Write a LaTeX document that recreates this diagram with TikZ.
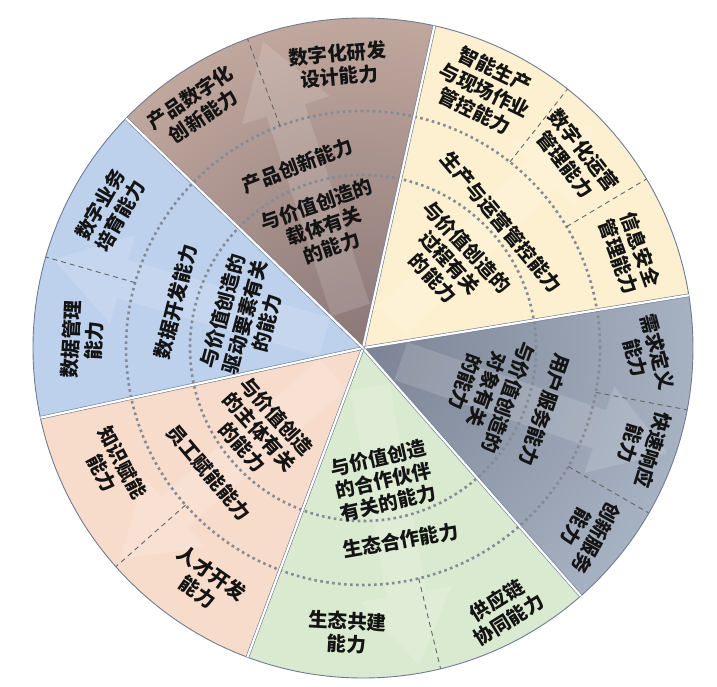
\documentclass[tikz,border=0pt]{standalone}
\usepackage{fontspec}
\newfontfamily\cjk{Noto Sans CJK SC}[BoldFont={Noto Sans CJK SC Black}]
\usepackage{tikz}
\usetikzlibrary{calc}

\definecolor{brownout}{HTML}{E6C9B9}
\definecolor{brownin}{HTML}{8A7777}
\definecolor{yellowfill}{HTML}{FDF0D0}
\definecolor{greyout}{HTML}{CAD7E7}
\definecolor{greyin}{HTML}{7B8394}
\definecolor{greenfill}{HTML}{DAEAD0}
\definecolor{salmonfill}{HTML}{F8DCCB}
\definecolor{bluefill}{HTML}{BDD0EC}
\definecolor{edgegrey}{HTML}{6F7C93}
\definecolor{dotgrey}{HTML}{858A94}

\begin{document}
\begin{tikzpicture}[x=1pt,y=1pt,
  lbl/.style={font=\cjk\bfseries\fontsize{19.5}{23}\selectfont, align=center, text=black!92, inner sep=0pt},
  ring/.style={dotgrey, line width=2.6pt, dash pattern=on 2.6pt off 3.4pt},
  subline/.style={black!60, line width=0.9pt, dash pattern=on 5pt off 4pt},
  sep/.style={draw=edgegrey, line width=0.6pt, double=white, double distance=2.2pt},
  glow/.style={fill=white, opacity=0.14}]
\useasboundingbox (-363,-338) rectangle (354,348);

% sectors
\begin{scope}
\clip (0,0) -- (77.5:330) arc (77.5:135.9:330) -- cycle;
\shade[inner color=brownin, outer color=brownout] (0,0) circle (560);
\end{scope}
\fill[yellowfill] (0,0) -- (9.2:330) arc (9.2:77.5:330) -- cycle;
\begin{scope}
\clip (0,0) -- (-48.7:330) arc (-48.7:9.2:330) -- cycle;
\shade[inner color=greyin, outer color=greyout] (0,0) circle (600);
\end{scope}
\fill[greenfill] (0,0) -- (-110.5:330) arc (-110.5:-48.7:330) -- cycle;
\fill[salmonfill] (0,0) -- (192.2:330) arc (192.2:249.5:330) -- cycle;
\fill[bluefill] (0,0) -- (135.9:330) arc (135.9:192.2:330) -- cycle;

% faint arrows
\fill[glow, rotate=108] (40,-20) -- (250,-20) -- (250,-46) -- (322,0) -- (250,46) -- (250,20) -- (40,20) -- cycle;
\fill[glow, rotate=44] (40,-20) -- (250,-20) -- (250,-46) -- (322,0) -- (250,46) -- (250,20) -- (40,20) -- cycle;
\fill[glow, rotate=-19] (40,-20) -- (250,-20) -- (250,-46) -- (322,0) -- (250,46) -- (250,20) -- (40,20) -- cycle;
\fill[glow, rotate=-80] (40,-20) -- (250,-20) -- (250,-46) -- (322,0) -- (250,46) -- (250,20) -- (40,20) -- cycle;
\fill[glow, rotate=221] (40,-20) -- (250,-20) -- (250,-46) -- (322,0) -- (250,46) -- (250,20) -- (40,20) -- cycle;
\fill[glow, rotate=164] (40,-20) -- (250,-20) -- (250,-46) -- (322,0) -- (250,46) -- (250,20) -- (40,20) -- cycle;

% rings and sub-divisions
\draw[ring] (0,0) circle (173);
\draw[ring] (0,0) circle (237);
\draw[subline] (110.5:237) -- (110.5:330);
\draw[subline] (51.7:237) -- (51.7:330);
\draw[subline] (30.8:237) -- (30.8:330);
\draw[subline] (-10.8:237) -- (-10.8:330);
\draw[subline] (-30:237) -- (-30:330);
\draw[subline] (-76.4:237) -- (-76.4:330);
\draw[subline] (221.5:237) -- (221.5:330);
\draw[subline] (164:237) -- (164:330);

% separators and rim
\draw[edgegrey, line width=0.9pt] (0,0) circle (330);
\coordinate (c) at (0,0);
\draw[sep] (c) -- (77.5:330);
\draw[sep] (c) -- (9.2:330);
\draw[sep] (c) -- (-48.7:330);
\draw[sep] (c) -- (-110.5:330);
\draw[sep] (c) -- (192.2:330);
\draw[sep] (c) -- (135.9:330);

% brown sector
\node[lbl, rotate=34] (bo1) at (124.6:293) {产品数字化\\创新能力};
\node[lbl, rotate=5] (bo2) at (95:284) {数字化研发\\设计能力};
\node[lbl, rotate=21] (bm) at (109.6:194) {产品创新能力};
\node[lbl, rotate=19] (bi) at (107.7:128) {与价值创造的\\载体有关\\的能力};

% yellow sector
\node[lbl, rotate=-26] (yo1) at (64.7:285) {智能生产\\与现场作业\\管控能力};
\node[lbl, rotate=-52] (yo2) at (42:285) {数字化运营\\管理能力};
\node[lbl, rotate=-70] (yo3) at (19.6:283) {信息安全\\管理能力};
\node[lbl, rotate=-50] (ym) at (42.2:187) {生产与运营管控能力};
\node[lbl, rotate=-47] (yi) at (44.5:122) {与价值创造的\\过程有关\\的能力};

% grey sector
\node[lbl, rotate=-75] (go1) at (-1.4:284) {需求定义\\能力};
\node[lbl, rotate=-107] (go2) at (-19.5:296) {快速响应\\能力};
\node[lbl, rotate=-119] (go3) at (-39.6:290) {创新服务\\能力};
\node[lbl, rotate=-109] (gm) at (-18.8:192) {用户服务能力};
\node[lbl, rotate=-110] (gi) at (-18.7:131) {与价值创造的\\对象有关\\的能力};

% green sector
\node[lbl, rotate=13] (ni) at (-81.4:134) {与价值创造\\的合作伙伴\\有关的能力};
\node[lbl, rotate=10] (nm) at (-79:196) {生态合作能力};
\node[lbl, rotate=-3] (no1) at (-93.2:285) {生态共建\\能力};
\node[lbl, rotate=32] (no2) at (-61.9:297) {供应链\\协同能力};

% salmon sector
\node[lbl, rotate=-48] (si) at (219:133) {与价值创造\\的主体有关\\的能力};
\node[lbl, rotate=-50] (sm) at (219:198) {员工赋能能力};
\node[lbl, rotate=-62] (so1) at (205.6:278) {知识赋能\\能力};
\node[lbl, rotate=-35] (so2) at (236:283) {人才开发\\能力};

% blue sector
\node[lbl, rotate=87] (lo1) at (178.4:281) {数据管理\\能力};
\node[lbl, rotate=60] (lo2) at (151.4:288) {数字业务\\培育能力};
\node[lbl, rotate=76] (lm) at (166.2:193) {数据开发能力};
\node[lbl, rotate=75] (li) at (165.3:122) {与价值创造的\\驱动要素有关\\的能力};
\end{tikzpicture}
\end{document}
